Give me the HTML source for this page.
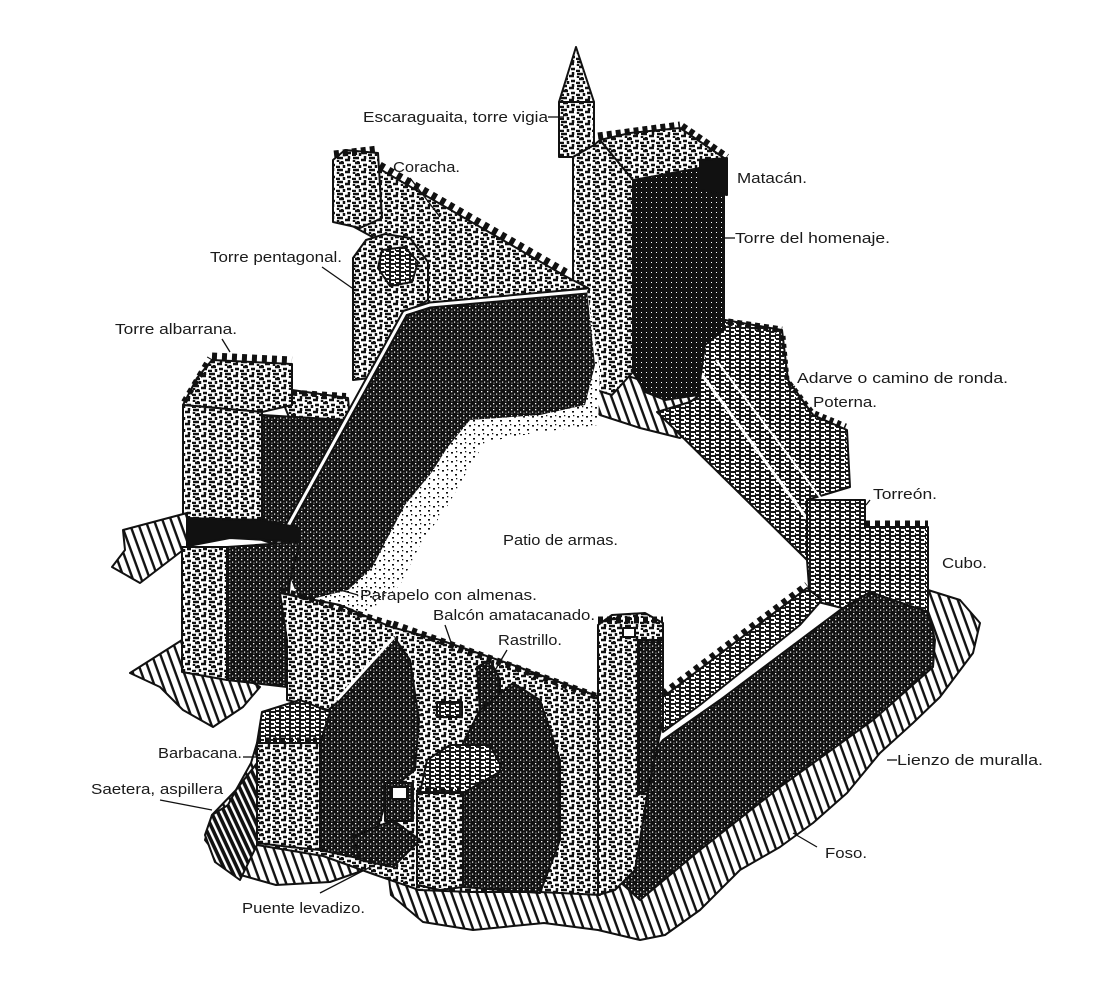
<!DOCTYPE html>
<html>
<head>
<meta charset="utf-8">
<style>
html,body{margin:0;padding:0;background:#fff;}
svg{display:block;}
text{font-family:"Liberation Sans",Arial,sans-serif;font-size:15px;fill:#1a1a1a;}
</style>
</head>
<body>
<svg width="1110" height="1003" viewBox="0 0 1110 1003" xmlns="http://www.w3.org/2000/svg">
<defs>
<pattern id="st" width="16" height="12" patternUnits="userSpaceOnUse">
<rect width="16" height="12" fill="#fff"/>
<path d="M1 2h6M9 4h5M3 7h5M11 9h4M0 11h4M8 9v3M13 0v3M2 4v2M6 5v2" stroke="#111" stroke-width="2.5"/>
</pattern>
<pattern id="dk" width="6" height="6" patternUnits="userSpaceOnUse">
<rect width="6" height="6" fill="#111"/>
<rect x="1" y="1" width="1.3" height="1.3" fill="#fff"/>
<rect x="4" y="3.5" width="1.2" height="1.2" fill="#fff"/>
<rect x="1.5" y="4.6" width="0.9" height="0.9" fill="#fff"/>
</pattern>
<pattern id="bk" width="5" height="5" patternUnits="userSpaceOnUse">
<rect width="5" height="5" fill="#111"/>
<rect x="1" y="2" width="1" height="1" fill="#fff"/>
</pattern>
<pattern id="md" width="10" height="8" patternUnits="userSpaceOnUse">
<rect width="10" height="8" fill="#1a1a1a"/>
<path d="M1 2h4M6 5h3M1 6h4M6 1h3M4 4h2" stroke="#fff" stroke-width="2"/>
</pattern>
<pattern id="ht" width="8" height="8" patternUnits="userSpaceOnUse" patternTransform="rotate(70)">
<rect width="8" height="8" fill="#fff"/>
<rect x="0" y="0" width="8" height="2.4" fill="#111"/>
</pattern>
<pattern id="hd" width="6" height="6" patternUnits="userSpaceOnUse" patternTransform="rotate(65)">
<rect width="6" height="6" fill="#fff"/>
<rect x="0" y="0" width="6" height="3.6" fill="#111"/>
</pattern>
<pattern id="fd" width="9" height="9" patternUnits="userSpaceOnUse">
<rect width="9" height="9" fill="#fff"/>
<rect x="1" y="2" width="2" height="1.6" fill="#111"/>
<rect x="5" y="6" width="2" height="1.6" fill="#111"/>
<rect x="6" y="1" width="1.3" height="1.3" fill="#111"/>
</pattern>
</defs>
<rect width="1110" height="1003" fill="#fff"/>

<g stroke="#111" stroke-width="2" stroke-linejoin="round">
<!-- bottom rocky base -->
<polygon fill="url(#ht)" points="212,815 236,790 251,763 257,743 320,760 367,780 420,800 470,790 540,800 600,800 640,780 700,740 800,660 865,600 928,590 960,600 980,623 973,653 940,697 913,723 880,753 847,793 813,823 780,847 740,870 700,910 665,935 640,940 598,930 544,923 473,930 423,922 391,895 387,862 330,882 276,885 230,872 205,840"/>

<!-- rock under keep -->
<polygon fill="url(#ht)" points="582,360 640,380 700,395 700,420 680,438 640,428 600,415 578,395"/>

<!-- NE wall (adarve) -->
<polygon fill="url(#md)" points="700,330 725,320 782,330 788,380 813,415 847,430 850,487 807,500 807,560 657,412 690,402 700,395"/>
<path d="M700,372 L808,520" stroke="#fff" stroke-width="3" fill="none"/>
<path d="M716,360 L826,505" stroke="#fff" stroke-width="2" fill="none"/>
<path d="M728,322 L782,330" stroke="#111" stroke-width="7" stroke-dasharray="5 4" fill="none"/>
<polyline points="783,336 787,380 812,412 846,426" stroke="#111" stroke-width="5" stroke-dasharray="4 4" fill="none"/>

<!-- Torreon + Cubo -->
<polygon fill="url(#md)" points="807,500 865,500 865,527 928,527 928,625 870,615 810,600 807,560"/>
<path d="M865,524 L928,524" stroke="#111" stroke-width="7" stroke-dasharray="5 5" fill="none"/>

<!-- moat dark -->
<polygon fill="url(#dk)" points="615,800 663,740 720,700 800,640 840,610 870,592 928,612 935,640 933,667 873,720 780,787 700,850 640,900 618,880"/>

<!-- SE wall strip -->
<polygon fill="url(#md)" points="663,697 807,588 822,600 800,625 700,705 663,732"/>
<path d="M663,694 L807,585" stroke="#111" stroke-width="7" stroke-dasharray="5 5" fill="none"/>

<!-- escaraguaita -->
<polygon fill="url(#st)" points="576,47 559,102 594,102"/>
<polygon fill="url(#st)" points="559,102 594,102 594,150 573,157 559,157"/>

<!-- keep -->
<polygon fill="url(#st)" points="573,157 594,145 600,140 633,180 633,372 612,395 590,388 573,380"/>
<polygon fill="url(#st)" points="600,140 630,133 680,128 727,160 724,172 700,168 636,182 633,180"/>
<polygon fill="url(#bk)" points="633,180 700,168 724,172 724,330 705,345 698,395 665,400 645,392 633,372"/>
<path d="M598,136 L680,125" stroke="#111" stroke-width="7" stroke-dasharray="5 4" fill="none"/>
<path d="M682,126 L727,157" stroke="#111" stroke-width="7" stroke-dasharray="5 4" fill="none"/>
<polygon fill="#111" points="700,160 727,158 727,195 700,190"/>

<!-- coracha -->
<polygon fill="url(#st)" points="345,178 378,168 565,276 588,288 430,305 407,313 392,280 378,240 345,222"/>
<path d="M380,165 L566,272" stroke="#111" stroke-width="7" stroke-dasharray="5 5" fill="none"/>
<polygon fill="url(#st)" points="333,160 345,150 378,153 382,218 360,228 333,222"/>
<path d="M334,154 L378,149" stroke="#111" stroke-width="7" stroke-dasharray="5 4" fill="none"/>

<!-- pentagonal tower -->
<polygon fill="url(#st)" points="353,258 366,240 385,234 410,238 428,262 428,300 407,312 380,360 370,378 353,380"/>
<polygon fill="url(#md)" points="382,250 405,247 418,262 412,282 390,286 378,268"/>

<!-- connecting wall -->
<polygon fill="url(#st)" points="280,395 292,390 348,398 350,420 291,422"/>
<path d="M282,392 L346,396" stroke="#111" stroke-width="6" stroke-dasharray="5 5" fill="none"/>

<!-- NW dark wall -->
<polygon fill="url(#fd)" stroke="none" points="587,290 600,370 598,425 540,432 485,442 465,475 448,505 420,545 400,585 370,612 300,612 277,545"/>
<polygon fill="url(#dk)" stroke="none" points="405,312 430,304 587,290 595,365 585,405 540,415 470,420 447,448 432,472 405,505 388,537 372,568 348,590 300,602 277,545"/>
<polygon fill="url(#dk)" points="262,415 346,420 291,520 277,545 262,540"/>
<polyline points="277,546 405,313 430,305 587,291" fill="none" stroke="#111" stroke-width="7"/>
<polyline points="277,546 405,313 430,305 587,291" fill="none" stroke="#fff" stroke-width="3"/>

<!-- albarrana -->
<polygon fill="url(#st)" points="212,360 292,364 292,405 262,412 183,405 197,378"/>
<polygon fill="url(#st)" points="183,405 262,412 262,520 183,518"/>
<path d="M212,356 L292,360" stroke="#111" stroke-width="7" stroke-dasharray="5 5" fill="none"/>
<path d="M184,402 L210,358" stroke="#111" stroke-width="6" stroke-dasharray="5 5" fill="none"/>
<polygon fill="#111" points="183,518 262,520 300,528 300,542 230,538 183,547"/>

<!-- rock flags -->
<polygon fill="url(#ht)" points="123,530 187,513 187,547 140,583 112,567 125,550"/>
<polygon fill="url(#ht)" points="130,673 182,640 260,687 243,707 213,727 183,710 160,687"/>

<!-- lower SW tower -->
<polygon fill="url(#st)" points="182,547 227,547 227,680 182,672"/>
<polygon fill="url(#dk)" points="227,547 300,542 290,580 285,640 287,687 227,680"/>

<!-- south wall & gatehouse stone -->
<polygon fill="url(#st)" points="280,593 340,605 391,627 440,640 510,664 600,697 600,895 540,892 470,892 419,890 373,874 323,856 257,845 257,743 337,712 287,700 287,640"/>
<path d="M281,590 L391,624" stroke="#111" stroke-width="6" stroke-dasharray="5 5" fill="none"/>
<path d="M393,624 L598,697" stroke="#111" stroke-width="7" stroke-dasharray="5 5" fill="none"/>

<!-- dark gable + left barbican dark face -->
<polygon fill="url(#dk)" points="320,717 340,700 394,637 410,660 419,720 415,770 390,790 367,860 320,850"/>
<polyline points="394,637 337,700" fill="none" stroke="#fff" stroke-width="3"/>

<!-- saetera dark round -->
<polygon fill="url(#hd)" points="236,790 257,763 257,845 240,880 215,862 205,835 212,815 228,805"/>

<!-- left barbican -->
<polygon fill="url(#md)" points="257,743 262,712 300,700 330,712 320,743"/>
<polygon fill="url(#st)" points="257,743 320,743 320,850 290,847 257,843"/>
<path d="M257,740 L320,740" stroke="#111" stroke-width="5" stroke-dasharray="4 4" fill="none"/>

<!-- rastrillo dark -->
<polygon fill="url(#dk)" points="477,667 490,660 500,680 500,710 480,712"/>
<!-- balcon window -->
<rect x="437" y="702" width="25" height="15" fill="url(#md)"/>

<!-- right barbican dark -->
<polygon fill="url(#dk)" points="463,743 480,710 513,683 540,700 560,760 560,840 540,893 463,887"/>
<!-- right barbican -->
<polygon fill="url(#md)" points="427,760 450,745 490,745 503,770 463,793 420,793"/>
<polygon fill="url(#st)" points="417,793 463,793 463,887 440,890 417,885"/>
<path d="M417,790 L463,790" stroke="#111" stroke-width="5" stroke-dasharray="4 4" fill="none"/>

<!-- round tower -->
<polygon fill="url(#st)" points="598,625 612,615 645,613 663,623 663,700 648,790 635,870 615,890 598,895"/>
<polygon fill="url(#dk)" points="638,640 663,640 663,720 648,790 638,795"/>
<path d="M598,620 L663,620" stroke="#111" stroke-width="7" stroke-dasharray="5 4" fill="none"/>
<rect x="623" y="628" width="12" height="9" fill="#fff"/>

<!-- door + bridge -->
<rect x="385" y="783" width="28" height="38" fill="url(#dk)"/>
<rect x="392" y="787" width="15" height="12" fill="#fff"/>
<polygon fill="url(#dk)" points="353,837 393,820 420,840 393,867 360,860"/>
</g>

<!-- leader lines -->
<g stroke="#111" stroke-width="1.3" fill="none">
<line x1="548" y1="117" x2="564" y2="117"/>
<line x1="410" y1="178" x2="440" y2="217"/>
<line x1="722" y1="238" x2="735" y2="238"/>
<line x1="322" y1="267" x2="352" y2="288"/>
<line x1="222" y1="339" x2="230" y2="352"/>
<line x1="787" y1="392" x2="795" y2="386"/>
<line x1="813" y1="413" x2="809" y2="421"/>
<line x1="870" y1="500" x2="866" y2="505"/>
<line x1="358" y1="595" x2="340" y2="590"/>
<line x1="445" y1="625" x2="453" y2="648"/>
<line x1="507" y1="650" x2="494" y2="672"/>
<line x1="243" y1="757" x2="257" y2="757"/>
<line x1="160" y1="800" x2="212" y2="810"/>
<line x1="320" y1="893" x2="380" y2="862"/>
<line x1="887" y1="760" x2="897" y2="760"/>
<line x1="793" y1="833" x2="817" y2="847"/>
</g>

<!-- labels -->
<text x="363" y="122" textLength="185" lengthAdjust="spacingAndGlyphs">Escaraguaita, torre vigia</text>
<text x="393" y="172" textLength="67" lengthAdjust="spacingAndGlyphs">Coracha.</text>
<text x="737" y="183" textLength="70" lengthAdjust="spacingAndGlyphs">Matacán.</text>
<text x="735" y="243" textLength="155" lengthAdjust="spacingAndGlyphs">Torre del homenaje.</text>
<text x="210" y="262" textLength="132" lengthAdjust="spacingAndGlyphs">Torre pentagonal.</text>
<text x="115" y="334" textLength="122" lengthAdjust="spacingAndGlyphs">Torre albarrana.</text>
<text x="797" y="383" textLength="211" lengthAdjust="spacingAndGlyphs">Adarve o camino de ronda.</text>
<text x="813" y="407" textLength="64" lengthAdjust="spacingAndGlyphs">Poterna.</text>
<text x="873" y="499" textLength="64" lengthAdjust="spacingAndGlyphs">Torreón.</text>
<text x="942" y="568" textLength="45" lengthAdjust="spacingAndGlyphs">Cubo.</text>
<text x="503" y="545" textLength="115" lengthAdjust="spacingAndGlyphs">Patio de armas.</text>
<text x="360" y="600" textLength="177" lengthAdjust="spacingAndGlyphs">Parapelo con almenas.</text>
<text x="433" y="620" textLength="162" lengthAdjust="spacingAndGlyphs">Balcón amatacanado.</text>
<text x="498" y="645" textLength="64" lengthAdjust="spacingAndGlyphs">Rastrillo.</text>
<text x="158" y="758" textLength="84" lengthAdjust="spacingAndGlyphs">Barbacana.</text>
<text x="91" y="794" textLength="132" lengthAdjust="spacingAndGlyphs">Saetera, aspillera</text>
<text x="242" y="913" textLength="123" lengthAdjust="spacingAndGlyphs">Puente levadizo.</text>
<text x="897" y="765" textLength="146" lengthAdjust="spacingAndGlyphs">Lienzo de muralla.</text>
<text x="825" y="858" textLength="42" lengthAdjust="spacingAndGlyphs">Foso.</text>
</svg>
</body>
</html>
